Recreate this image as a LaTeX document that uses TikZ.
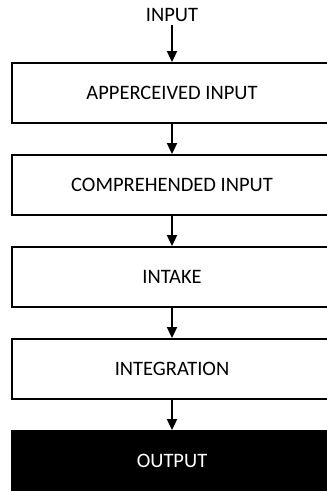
\documentclass[tikz,border=0pt]{standalone}
\usepackage{fontspec}
\setmainfont{Carlito}
\usetikzlibrary{arrows.meta}
\tikzset{
  stage/.style={draw,line width=1.8pt,minimum width=320pt,minimum height=60pt,inner sep=0pt,font=\fontsize{20.5}{24}\selectfont},
  laststage/.style={stage,fill=black,text=white},
  flow/.style={line width=1.8pt,-{Triangle[width=10pt,length=11pt]}}
}
\begin{document}
\begin{tikzpicture}[x=1pt,y=1pt]
\clip (0,0) rectangle (327,-491);
\node[font=\fontsize{20.5}{24}\selectfont] (in) at (172,-15) {INPUT};
\node[stage] (app) at (172,-93) {APPERCEIVED INPUT};
\node[stage] (comp) at (172,-185) {COMPREHENDED INPUT};
\node[stage] (intake) at (172,-277) {INTAKE};
\node[stage] (integ) at (172,-369) {INTEGRATION};
\node[laststage] (out) at (172,-461) {OUTPUT};
\draw[flow] (in) -- (app);
\draw[flow] (app) -- (comp);
\draw[flow] (comp) -- (intake);
\draw[flow] (intake) -- (integ);
\draw[flow] (integ) -- (out);
\end{tikzpicture}
\end{document}
